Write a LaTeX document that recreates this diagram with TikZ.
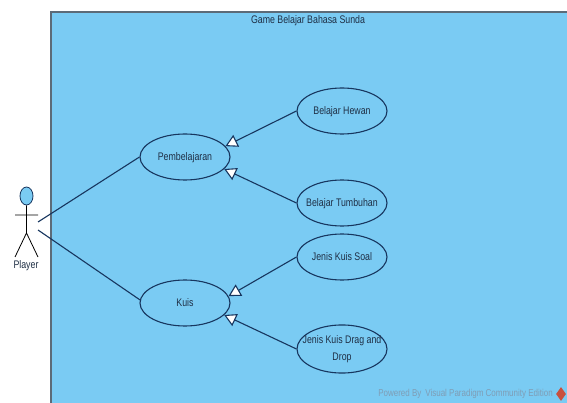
\documentclass[tikz,border=0pt]{standalone}
\usepackage{fontspec}
\setmainfont[FakeStretch=0.8]{Liberation Sans}
\usetikzlibrary{arrows.meta,shapes.geometric}
\definecolor{sysblue}{HTML}{7ACBF3}
\definecolor{sysedge}{HTML}{5C6B78}
\definecolor{navy}{HTML}{17365F}
\definecolor{inkt}{HTML}{1F2F45}
\definecolor{wm}{HTML}{7F9DB5}
\definecolor{wmred}{HTML}{C8503F}
\newcommand{\uclabel}[1]{\makebox[0pt][c]{\begin{tabular}{@{}c@{}}#1\end{tabular}}}
\tikzset{
  usecase/.style={ellipse,draw=navy,fill=sysblue,line width=1.1pt,minimum width=90pt,minimum height=46pt,inner sep=0pt,text=inkt,font=\fontsize{11}{17}\selectfont},
  assoc/.style={draw=navy,line width=1.1pt},
  gener/.style={draw=navy,line width=1.1pt,-{Triangle[open,fill=white,length=12pt,width=13pt]}},
  stick/.style={draw=black,line width=0.8pt},
  plain/.style={inner sep=0pt,text=inkt,font=\fontsize{11}{13}\selectfont}
}
\begin{document}
\begin{tikzpicture}[x=1pt,y=-1pt]
\useasboundingbox (0,0) rectangle (567,403);
\fill[white] (0,0) rectangle (567,403);
\fill[sysblue] (51,12) rectangle (567,403);
\draw[sysedge,line width=1.1pt] (567,12) -- (51,12) -- (51,403);
\node[plain] (title) at (308,21) {Game Belajar Bahasa Sunda};
% actor
\node[ellipse,draw=navy,fill=sysblue,line width=0.8pt,minimum width=13pt,minimum height=18pt,inner sep=0pt] (head) at (26.5,196) {};
\coordinate (hip) at (26.5,233);
\coordinate (armL) at (15,215);
\coordinate (armR) at (38,215);
\coordinate (legL) at (15,257);
\coordinate (legR) at (38,257);
\coordinate (actorA) at (38,222);
\coordinate (actorB) at (38,230);
\draw[stick] (head.south) -- (hip) (armL) -- (armR) (hip) -- (legL) (hip) -- (legR);
\node[plain] (player) at (26,266) {Player};
% use cases
\node[usecase] (pemb) at (185,157) {\uclabel{Pembelajaran}};
\node[usecase] (hewan) at (342,111) {\uclabel{Belajar Hewan}};
\node[usecase] (tumb) at (342,203) {\uclabel{Belajar Tumbuhan}};
\node[usecase] (kuis) at (185,303) {\uclabel{Kuis}};
\node[usecase] (soal) at (342,257) {\uclabel{Jenis Kuis Soal}};
\node[usecase] (drag) at (342,349) {\uclabel{Jenis Kuis Drag and\\Drop}};
% connectors
\draw[assoc] (actorA) -- (pemb.west);
\draw[assoc] (actorB) -- (kuis.176);
\draw[gener] (hewan.west) -- (pemb.15);
\draw[gener] (tumb.west) -- (pemb.-17);
\draw[gener] (soal.west) -- (kuis.9);
\draw[gener] (drag.west) -- (kuis.-17);
% watermark
\node[inner sep=0pt,anchor=east,text=wm,font=\fontsize{10}{12}\selectfont] (wmark) at (553,394) {Powered By\, Visual Paradigm Community Edition};
\node[diamond,fill=wmred,minimum width=10pt,minimum height=14pt,inner sep=0pt] (logo) at (561,394) {};
\end{tikzpicture}
\end{document}
